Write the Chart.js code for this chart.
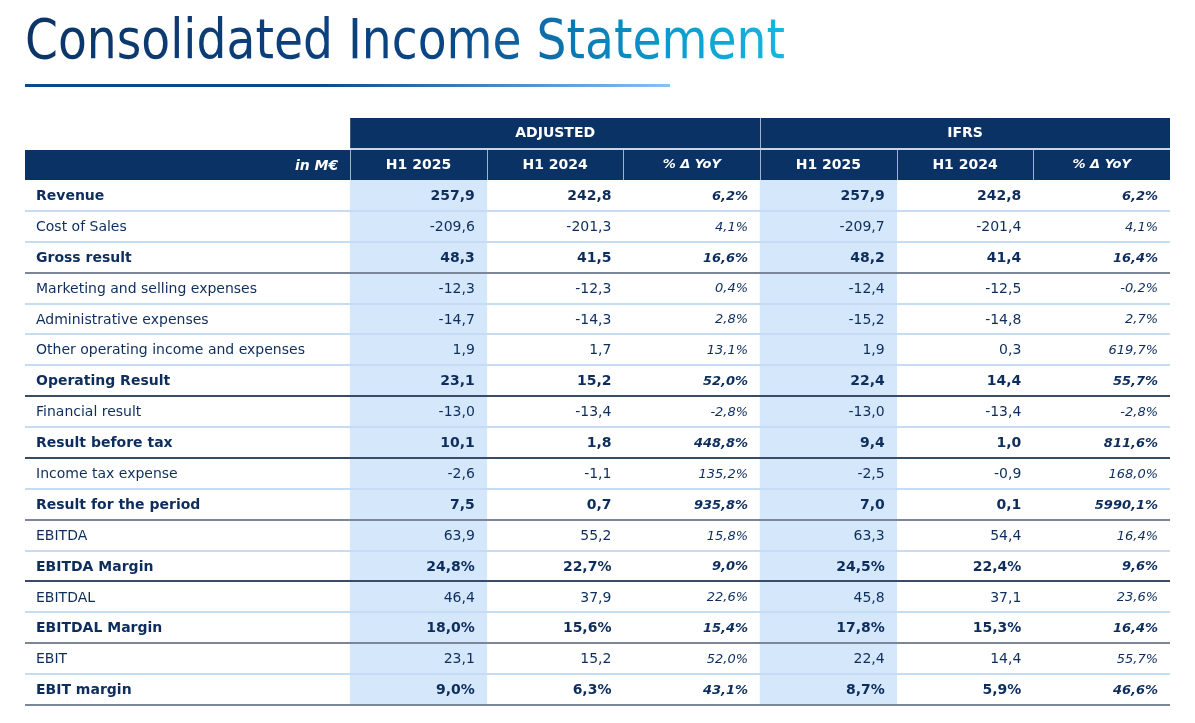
<!DOCTYPE html>
<html>
<head>
<meta charset="utf-8">
<script src="https://cdn.jsdelivr.net/npm/chart.js@4.4.1/dist/chart.umd.min.js"></script>
<style>
  html, body { margin: 0; padding: 0; background: #fff; width: 1195px; height: 723px; overflow: hidden; }
  #wrap { position: relative; width: 1195px; height: 723px; }
  #statement { position: absolute; left: 0; top: 0; }
  #title {
    position: absolute; left: 25px; top: 6px;
    font-family: "DejaVu Sans Condensed", "DejaVu Sans", sans-serif;
    font-size: 55px; line-height: 66px; white-space: nowrap;
    transform-origin: 0 0;
    background: linear-gradient(90deg, #0c3566 0%, #0b4585 55%, #0e66a3 66%, #0a9ccf 85%, #18b6de 100%);
    -webkit-background-clip: text; background-clip: text; color: transparent;
  }
  #rule {
    position: absolute; left: 25px; top: 84px; width: 645px; height: 3px;
    background: linear-gradient(90deg, #0b4a8a 0%, #0b4a8a 45%, #86c1f7 100%);
  }
</style>
</head>
<body>
<div id="wrap">
  <div id="title">Consolidated Income Statement</div>
  <div id="rule"></div>
  <canvas id="statement" width="1195" height="723"></canvas>
</div>
<script>
// row labels and which rows are subtotals (bold + dark rule below)
const rowLabels = [
  'Revenue', 'Cost of Sales', 'Gross result', 'Marketing and selling expenses',
  'Administrative expenses', 'Other operating income and expenses', 'Operating Result',
  'Financial result', 'Result before tax', 'Income tax expense', 'Result for the period',
  'EBITDA', 'EBITDA Margin', 'EBITDAL', 'EBITDAL Margin', 'EBIT', 'EBIT margin'
];
const boldRows = [0, 2, 6, 8, 10, 12, 14, 16];
const ruleRows = [2, 6, 8, 10, 12, 14, 16];
const marginRows = [12, 14, 16];

const groupLabels = ['ADJUSTED', 'IFRS'];
const columnLabels = ['H1 2025', 'H1 2024', '% Δ YoY', 'H1 2025', 'H1 2024', '% Δ YoY'];
const unitLabel = 'in M€';

// ADJUSTED
const adjH1_2025 = [257.9, -209.6, 48.3, -12.3, -14.7, 1.9, 23.1, -13.0, 10.1, -2.6, 7.5, 63.9, 24.8, 46.4, 18.0, 23.1, 9.0];
const adjH1_2024 = [242.8, -201.3, 41.5, -12.3, -14.3, 1.7, 15.2, -13.4, 1.8, -1.1, 0.7, 55.2, 22.7, 37.9, 15.6, 15.2, 6.3];
const adjYoY = [6.2, 4.1, 16.6, 0.4, 2.8, 13.1, 52.0, -2.8, 448.8, 135.2, 935.8, 15.8, 9.0, 22.6, 15.4, 52.0, 43.1];
// IFRS
const ifrsH1_2025 = [257.9, -209.7, 48.2, -12.4, -15.2, 1.9, 22.4, -13.0, 9.4, -2.5, 7.0, 63.3, 24.5, 45.8, 17.8, 22.4, 8.7];
const ifrsH1_2024 = [242.8, -201.4, 41.4, -12.5, -14.8, 0.3, 14.4, -13.4, 1.0, -0.9, 0.1, 54.4, 22.4, 37.1, 15.3, 14.4, 5.9];
const ifrsYoY = [6.2, 4.1, 16.4, -0.2, 2.7, 619.7, 55.7, -2.8, 811.6, 168.0, 5990.1, 16.4, 9.6, 23.6, 16.4, 55.7, 46.6];

const columns = [adjH1_2025, adjH1_2024, adjYoY, ifrsH1_2025, ifrsH1_2024, ifrsYoY];
const pctColumns = [2, 5];
const highlightColumns = [0, 3];

const NAVY = '#0b3265';
const TEXT = '#0d2d5c';
const FONT = '"DejaVu Sans", Verdana, sans-serif';
const LABEL_MIN = -2.38; // label column, in column units

// fit title width to the reference
const titleEl = document.getElementById('title');
titleEl.style.transform = 'scaleX(' + (760 / titleEl.getBoundingClientRect().width) + ')';

function fmt(v) {
  return v.toFixed(1).replace('.', ',');
}

const tablePlugin = {
  id: 'tablePlugin',
  afterDatasetsDraw(chart) {
    const ctx = chart.ctx;
    const x = chart.scales.x;
    const y = chart.scales.y;
    const area = chart.chartArea;
    const rowH = y.getPixelForValue(1) - y.getPixelForValue(0);
    const colX = c => x.getPixelForValue(c);

    ctx.save();

    // header blocks
    const h2Top = area.top - 30, h1Top = area.top - 62;
    ctx.fillStyle = NAVY;
    ctx.fillRect(colX(0), h1Top, colX(6) - colX(0), 30);
    ctx.fillRect(area.left, h2Top, area.right - area.left, 30);
    ctx.fillStyle = '#c9d5e4';
    ctx.fillRect(colX(0), h2Top - 2, colX(6) - colX(0), 2);
    ctx.strokeStyle = '#9fb3cc';
    ctx.lineWidth = 1;
    ctx.beginPath();
    ctx.moveTo(Math.round(colX(3)) + 0.5, h1Top);
    ctx.lineTo(Math.round(colX(3)) + 0.5, h2Top - 2);
    for (let c = 0; c < 6; c++) {
      const px = Math.round(colX(c)) + 0.5;
      ctx.moveTo(px, h2Top);
      ctx.lineTo(px, area.top);
    }
    ctx.stroke();

    ctx.fillStyle = '#ffffff';
    ctx.textBaseline = 'middle';
    ctx.textAlign = 'center';
    ctx.font = 'bold 14px ' + FONT;
    groupLabels.forEach((g, i) => {
      ctx.fillText(g, (colX(i * 3) + colX(i * 3 + 3)) / 2, h1Top + 15);
    });
    columnLabels.forEach((lab, c) => {
      ctx.font = (pctColumns.includes(c) ? 'italic bold 13px ' : 'bold 14px ') + FONT;
      ctx.fillText(lab, (colX(c) + colX(c + 1)) / 2, h2Top + 15);
    });
    ctx.textAlign = 'right';
    ctx.font = 'italic bold 14px ' + FONT;
    ctx.fillText(unitLabel, colX(0) - 12, h2Top + 16);

    // row rules
    rowLabels.forEach((lab, r) => {
      const yb = y.getPixelForValue(r) + rowH / 2;
      const dark = ruleRows.includes(r);
      ctx.fillStyle = dark ? (r === 6 || r === 8 || r === 12 ? '#3a4b66' : '#7b8698') : '#c6dcf2';
      ctx.fillRect(area.left, Math.round(yb) - 1, area.right - area.left, 2);
    });

    // cell text
    rowLabels.forEach((lab, r) => {
      const yc = y.getPixelForValue(r) + 1;
      const bold = boldRows.includes(r);
      ctx.fillStyle = TEXT;
      ctx.textAlign = 'left';
      ctx.font = (bold ? 'bold 14px ' : '14px ') + FONT;
      ctx.fillText(lab, area.left + 11, yc);
      ctx.textAlign = 'right';
      columns.forEach((col, c) => {
        const pct = pctColumns.includes(c);
        let txt = fmt(col[r]);
        if (pct || marginRows.includes(r)) txt += '%';
        ctx.font = (pct ? 'italic ' : '') + (bold ? 'bold ' : '') + (pct ? '13px ' : '14px ') + FONT;
        ctx.fillText(txt, colX(c + 1) - 12, yc);
      });
    });

    ctx.restore();
  }
};

new Chart(document.getElementById('statement'), {
  type: 'bar',
  data: {
    labels: rowLabels,
    datasets: highlightColumns.map(c => ({
      label: columnLabels[c],
      data: rowLabels.map(() => [c, c + 1]),
      backgroundColor: '#d5e8fb',
      borderWidth: 0,
      barPercentage: 1,
      categoryPercentage: 1,
      grouped: false
    }))
  },
  options: {
    indexAxis: 'y',
    responsive: false,
    animation: false,
    layout: { padding: { left: 25, right: 25, top: 180, bottom: 18 } },
    scales: {
      x: { type: 'linear', min: LABEL_MIN, max: 6, display: false },
      y: { type: 'category', display: false, offset: true }
    },
    plugins: {
      legend: { display: false },
      tooltip: { enabled: false },
      title: { display: false }
    }
  },
  plugins: [tablePlugin]
});
</script>
</body>
</html>
